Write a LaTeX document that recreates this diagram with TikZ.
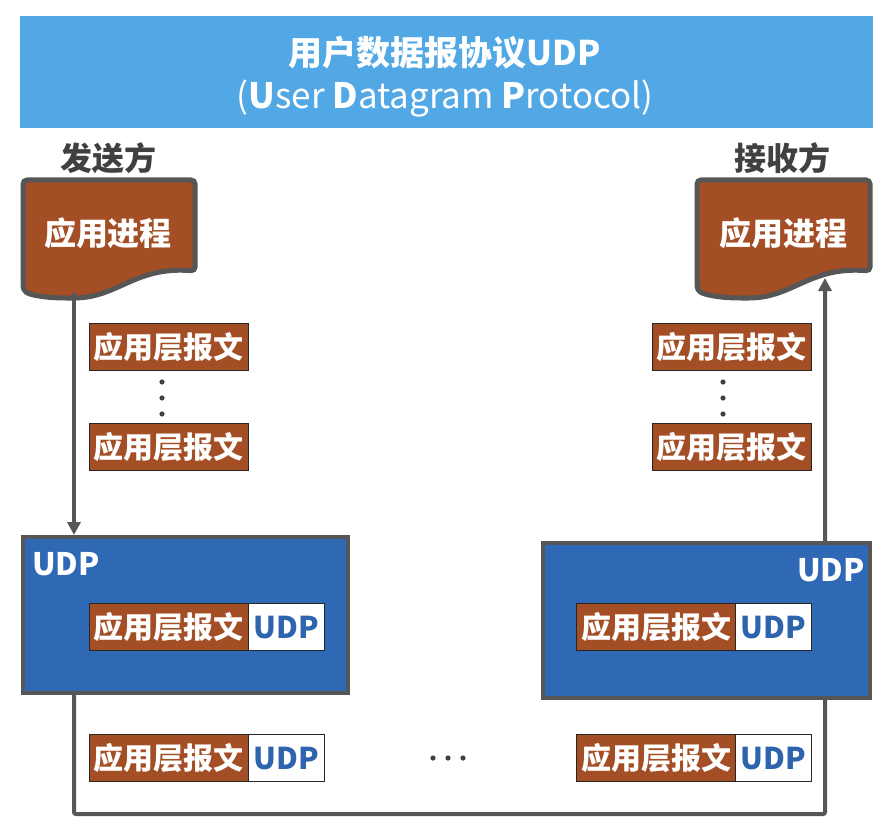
\documentclass[tikz,border=0pt]{standalone}
\usepackage{fontspec}
\setmainfont{Noto Sans CJK SC}
\usepackage{tikz}
\usepackage{xcolor}
\usetikzlibrary{arrows.meta,backgrounds}

\definecolor{bannerblue}{HTML}{52A8E5}
\definecolor{procbrown}{HTML}{A34E24}
\definecolor{udpblue}{HTML}{2F68B5}
\definecolor{edgegray}{HTML}{565656}
\definecolor{hdrtext}{HTML}{2E64AE}
\definecolor{nametext}{HTML}{404040}

\tikzset{
  cjk/.style={text height=26.4pt, text depth=3.6pt, inner sep=0pt, outer sep=0pt},
  cjkbig/.style={text height=28.2pt, text depth=3.8pt, inner sep=0pt, outer sep=0pt},
  msgbox/.style={cjk, draw=black!85, line width=0.8pt, fill=procbrown, text=white,
    font=\fontsize{30}{30}\selectfont\bfseries, minimum width=159pt, minimum height=47pt},
  hdrbox/.style={cjk, draw=black!85, line width=0.8pt, fill=white, text=hdrtext, anchor=west,
    font=\fontsize{30}{30}\selectfont\bfseries, minimum width=76pt, minimum height=47pt},
  udpbox/.style={draw=edgegray, line width=4pt, fill=udpblue, inner sep=0pt},
  udptag/.style={text=white, font=\fontsize{31}{31}\selectfont\bfseries, inner sep=0pt},
  procdoc/.style={draw=edgegray, line width=5pt, fill=procbrown, rounded corners=4pt},
  proctext/.style={cjkbig, text=white, font=\fontsize{32}{32}\selectfont\bfseries},
  sidename/.style={cjkbig, text=nametext, font=\fontsize{32}{32}\selectfont\bfseries},
  flow/.style={draw=edgegray, line width=4pt, -{Triangle[length=13pt,width=13pt]}},
}

\begin{document}
\begin{tikzpicture}[x=1pt, y=-1pt]
    \useasboundingbox (0,0) rectangle (892,824);

    % banner
    \fill[bannerblue] (20,16) rectangle (873,128);
    \node[text=white, font=\fontsize{34}{34}\selectfont\bfseries, inner sep=0pt, anchor=base] (title) at (445,66) {用户数据报协议UDP};
    \node[text=white, font=\fontsize{35}{35}\selectfont, inner sep=0pt, anchor=base] (subtitle) at (445,109)
        {(\textbf{U}ser \textbf{D}atagram \textbf{P}rotocol)};

    % sender and receiver
    \node[sidename] (sendname) at (108,158) {发送方};
    \node[sidename] (recvname) at (782,158) {接收方};

    \draw[procdoc] (23,180) -- (195,180) -- (195,271) .. controls (135,266) and (118,298) .. (70,298)
        .. controls (45,298) and (30,295) .. (23,290) -- cycle;
    \draw[procdoc] (697,180) -- (870,180) -- (870,271) .. controls (810,266) and (793,298) .. (745,298)
        .. controls (720,298) and (705,295) .. (697,290) -- cycle;
    \node[proctext] (sendproc) at (108,233) {应用进程};
    \node[proctext] (recvproc) at (783,233) {应用进程};
    \coordinate (sendout) at (74,293);
    \coordinate (recvin) at (825,278);

    % application messages
    \node[msgbox] (sendmsgA) at (168.5,347) {应用层报文};
    \node[msgbox] (sendmsgB) at (168.5,447) {应用层报文};
    \node[msgbox] (recvmsgA) at (731.5,347) {应用层报文};
    \node[msgbox] (recvmsgB) at (731.5,447) {应用层报文};
    \foreach \y in {382,398,414} {
        \fill[nametext] (162,\y) circle (2.6);
        \fill[nametext] (723,\y) circle (2.6);
    }

    % UDP layer
    \node[udpbox, minimum width=325pt, minimum height=156pt] (sendudp) at (185.5,615) {};
    \node[udpbox, minimum width=327pt, minimum height=155pt] (recvudp) at (706.5,620.5) {};
    \node[udptag, anchor=base west] (sendtag) at (32,575) {UDP};
    \node[udptag, anchor=base east] (recvtag) at (865,581) {UDP};

    \node[msgbox] (sendinner) at (168.5,627) {应用层报文};
    \node[hdrbox] (sendhdr) at (sendinner.east) {UDP};
    \node[msgbox] (recvinner) at (656,627) {应用层报文};
    \node[hdrbox] (recvhdr) at (recvinner.east) {UDP};

    % datagrams in transit
    \node[msgbox] (sendgram) at (168.5,758) {应用层报文};
    \node[hdrbox] (sendgramhdr) at (sendgram.east) {UDP};
    \node[msgbox] (recvgram) at (656,758) {应用层报文};
    \node[hdrbox] (recvgramhdr) at (recvgram.east) {UDP};
    \foreach \x in {433,448,463}
        \fill[nametext] (\x,758) circle (2.6);

    % connectors
    \draw[flow] (sendout) -- (sendudp.north -| sendout);
    \coordinate (turn) at (825,814);
    \begin{scope}[on background layer]
        \draw[flow, rounded corners=2pt] (sendudp.south -| sendout) |- (turn) -- (recvin);
    \end{scope}
\end{tikzpicture}
\end{document}
